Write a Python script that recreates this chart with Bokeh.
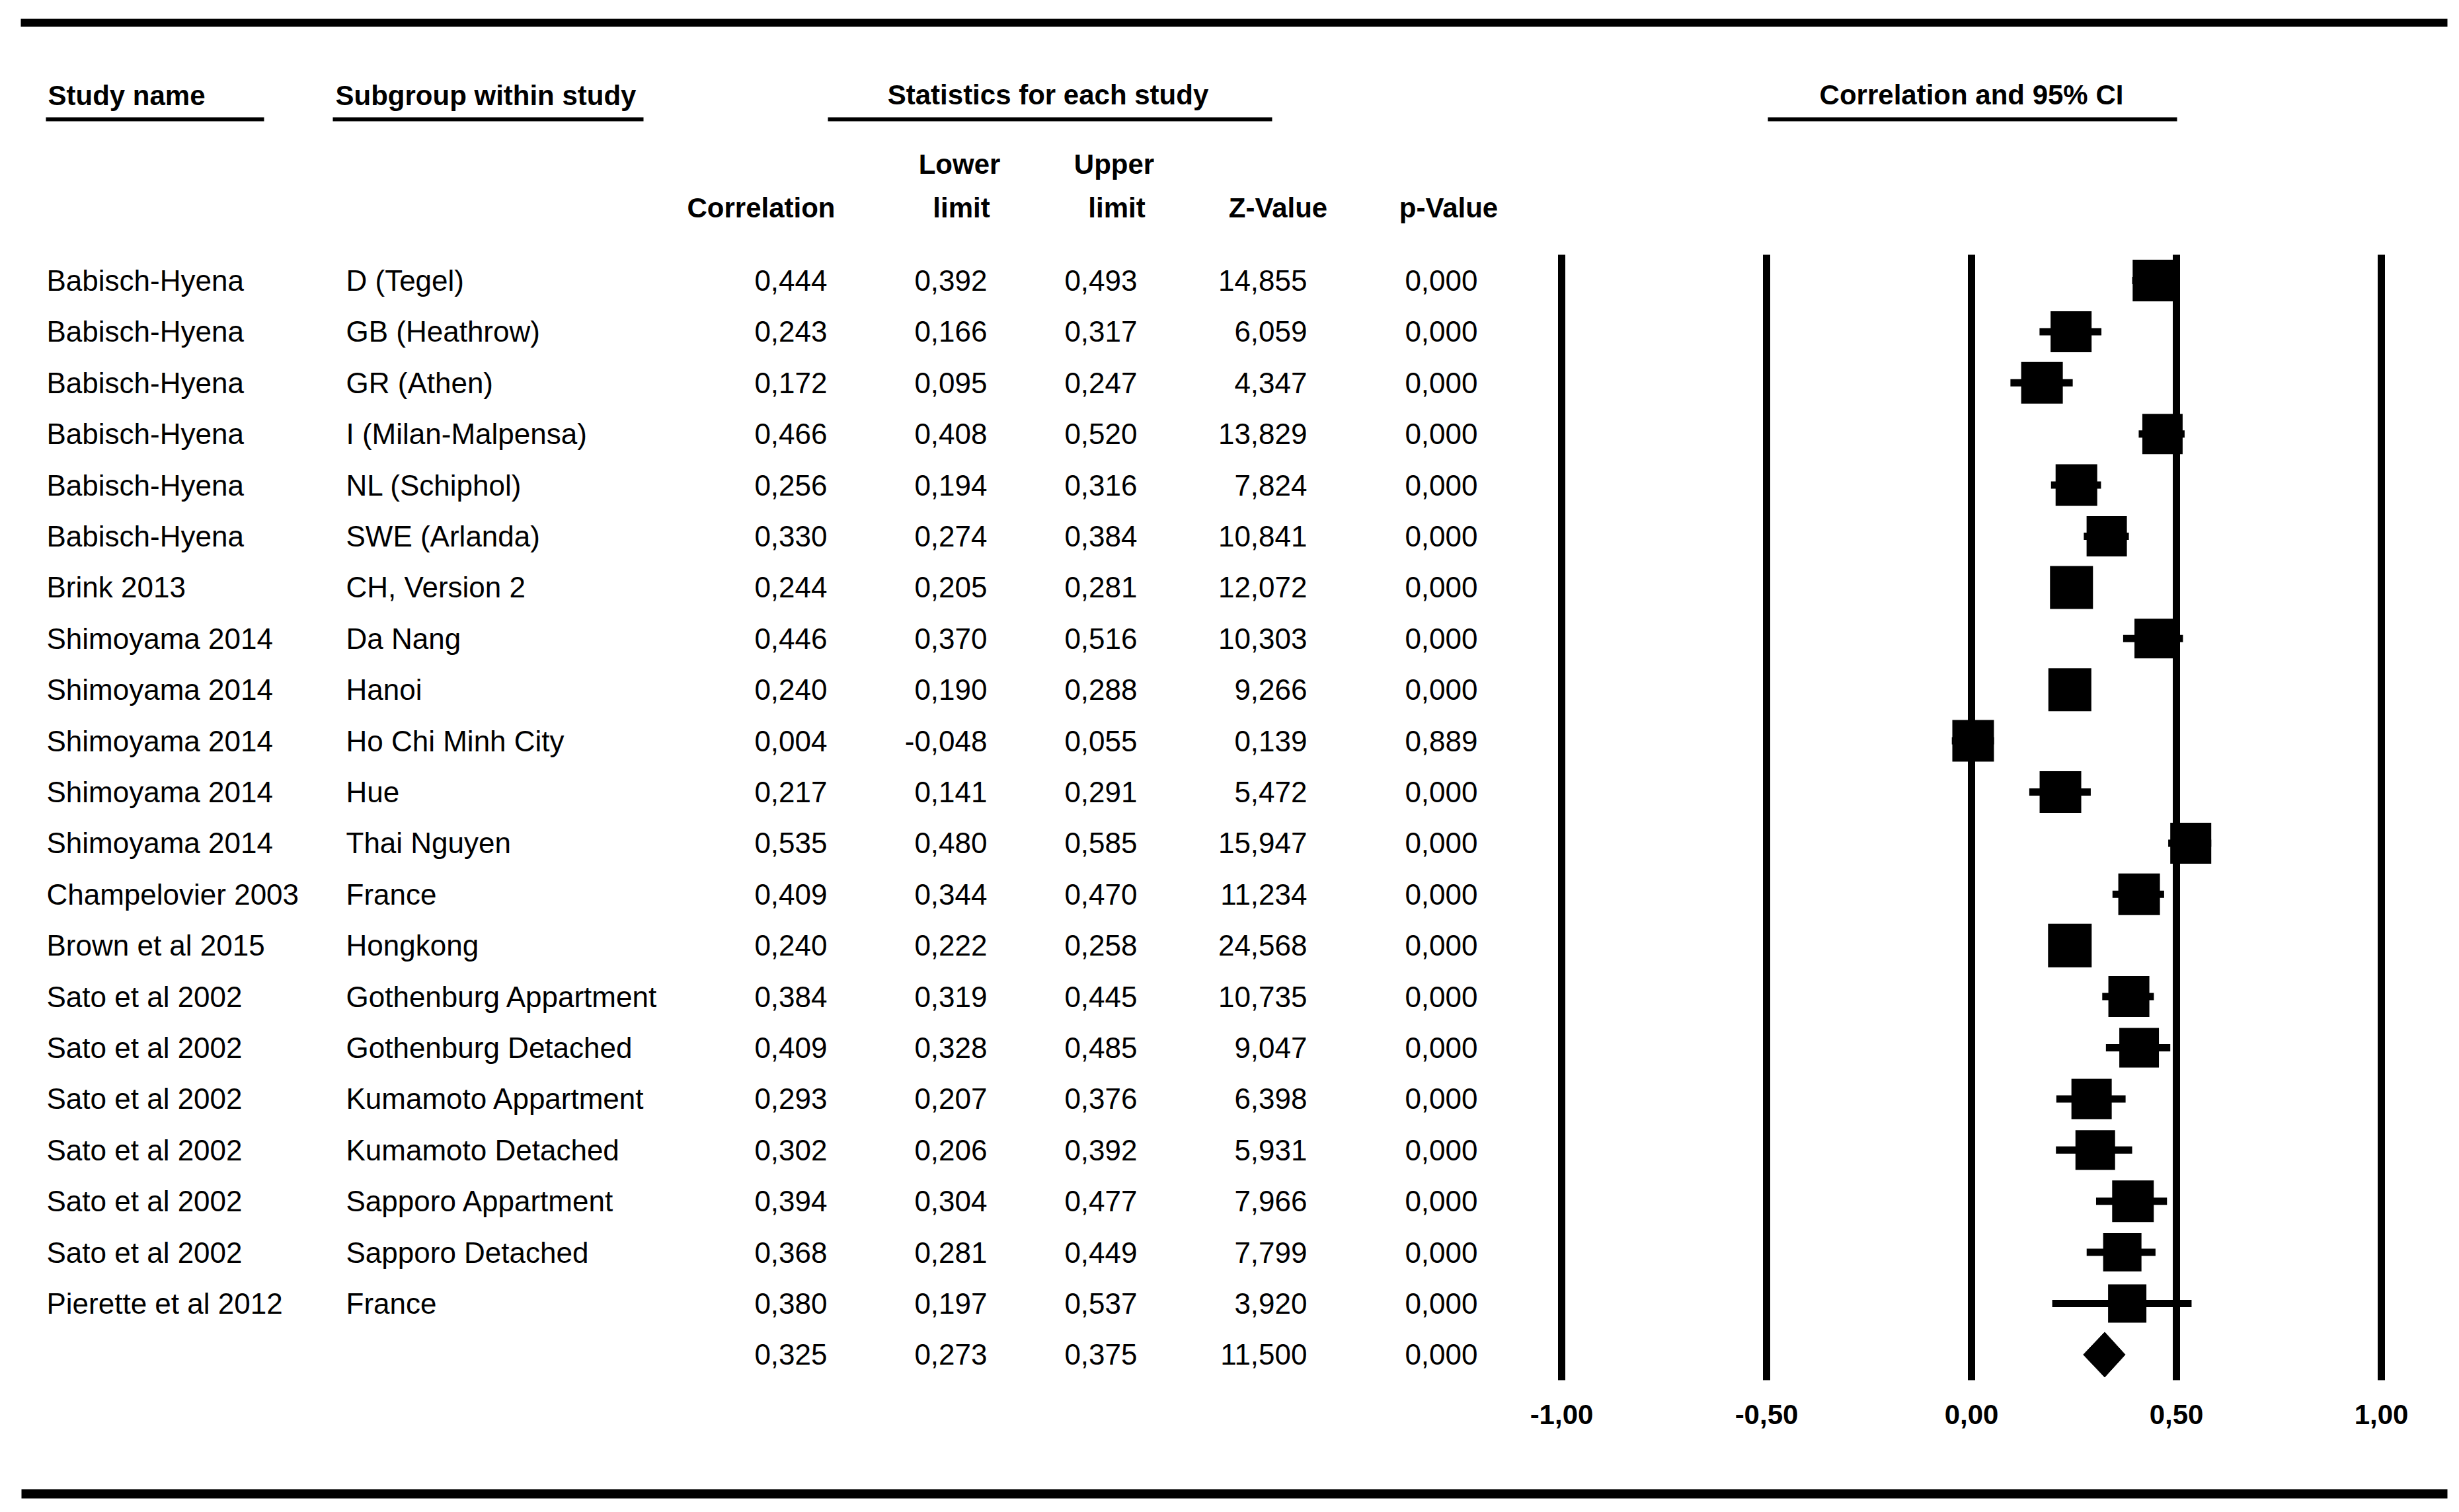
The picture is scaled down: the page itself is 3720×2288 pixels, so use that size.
import numpy as np
from bokeh.plotting import figure
from bokeh.models import Range1d, ColumnDataSource
from bokeh.core.properties import value
from bokeh.embed import file_html
from bokeh.resources import INLINE

# ---------------- data ----------------
study_names = ["Babisch-Hyena"] * 6 + ["Brink 2013"] + ["Shimoyama 2014"] * 5 + \
    ["Champelovier 2003", "Brown et al 2015"] + ["Sato et al 2002"] * 6 + ["Pierette et al 2012"]
subgroups = ["D (Tegel)", "GB (Heathrow)", "GR (Athen)", "I (Milan-Malpensa)", "NL (Schiphol)",
             "SWE (Arlanda)", "CH, Version 2", "Da Nang", "Hanoi", "Ho Chi Minh City", "Hue",
             "Thai Nguyen", "France", "Hongkong", "Gothenburg Appartment", "Gothenburg Detached",
             "Kumamoto Appartment", "Kumamoto Detached", "Sapporo Appartment", "Sapporo Detached",
             "France"]
correlation = [0.444, 0.243, 0.172, 0.466, 0.256, 0.330, 0.244, 0.446, 0.240, 0.004, 0.217,
               0.535, 0.409, 0.240, 0.384, 0.409, 0.293, 0.302, 0.394, 0.368, 0.380]
lower_limit = [0.392, 0.166, 0.095, 0.408, 0.194, 0.274, 0.205, 0.370, 0.190, -0.048, 0.141,
               0.480, 0.344, 0.222, 0.319, 0.328, 0.207, 0.206, 0.304, 0.281, 0.197]
upper_limit = [0.493, 0.317, 0.247, 0.520, 0.316, 0.384, 0.281, 0.516, 0.288, 0.055, 0.291,
               0.585, 0.470, 0.258, 0.445, 0.485, 0.376, 0.392, 0.477, 0.449, 0.537]
z_value = [14.855, 6.059, 4.347, 13.829, 7.824, 10.841, 12.072, 10.303, 9.266, 0.139, 5.472,
           15.947, 11.234, 24.568, 10.735, 9.047, 6.398, 5.931, 7.966, 7.799, 3.920]
p_value = [0.000] * 9 + [0.889] + [0.000] * 11
# relative weights (%), estimated from the square areas
rel_weight = [4.91, 4.76, 4.91, 4.60, 4.91, 4.60, 5.23, 4.45, 5.23, 4.91, 4.91,
              4.76, 4.91, 5.39, 4.76, 4.45, 4.60, 4.45, 4.91, 4.16, 4.16]

summary_corr, summary_lower, summary_upper = 0.325, 0.273, 0.375
summary_z, summary_p = 11.500, 0.000

axis_ticks = [-1.0, -0.5, 0.0, 0.5, 1.0]

# ---------------- layout helpers (page pixels -> data units) ----------------
OFFSET = 0.0          # canvas origin on the page
PX_PER_UNIT = 620.0
ZERO_PX = 2982.0
ROW0_PX = 424.0
ROW_PX = 77.4


def X(px):
    return (px - ZERO_PX) / PX_PER_UNIT


def Y(py):
    return (py - ROW0_PX) / ROW_PX


W, H = 3712, 2280
p = figure(width=W, height=H, output_backend="svg", toolbar_location=None,
           x_range=Range1d(X(OFFSET), X(OFFSET + W)), y_range=Range1d(Y(OFFSET + H), Y(OFFSET)),
           x_axis_type=None, y_axis_type=None, min_border=0,
           outline_line_color=None)
p.xgrid.visible = False
p.ygrid.visible = False
p.background_fill_color = "white"
p.border_fill_color = "white"

FONT = value("Liberation Sans")


def fmt(v):
    return f"{v:.3f}".replace(".", ",")


n = len(study_names)
rows = list(range(n))
all_rows = rows + [n]

# ---------------- rules ----------------
p.segment(x0=[X(31)], y0=[Y(34)], x1=[X(3702)], y1=[Y(34)], line_width=12, line_color="black")
p.segment(x0=[X(32)], y0=[Y(2260)], x1=[X(3702)], y1=[Y(2260)], line_width=14, line_color="black")

# header underlines
ul_x0 = [X(69), X(503), X(1252), X(2674)]
ul_x1 = [X(399), X(973), X(1924), X(3293)]
p.segment(x0=ul_x0, y0=[Y(180)] * 4, x1=ul_x1, y1=[Y(180)] * 4, line_width=6, line_color="black")

# ---------------- headers ----------------
hdr = dict(text_font=FONT, text_font_size="42px", text_font_style="bold", text_color="black",
           text_baseline="middle")
p.text(x=[X(72)], y=[Y(144)], text=["Study name"], text_align="left", **hdr)
p.text(x=[X(507)], y=[Y(144)], text=["Subgroup within study"], text_align="left", **hdr)
p.text(x=[X(1585)], y=[Y(143)], text=["Statistics for each study"], text_align="center", **hdr)
p.text(x=[X(2982)], y=[Y(143)], text=["Correlation and 95% CI"], text_align="center", **hdr)
p.text(x=[X(1263)], y=[Y(314)], text=["Correlation"], text_align="right", **hdr)
p.text(x=[X(1451), X(1685)], y=[Y(248)] * 2, text=["Lower", "Upper"], text_align="center", **hdr)
p.text(x=[X(1454), X(1689)], y=[Y(314)] * 2, text=["limit", "limit"], text_align="center", **hdr)
p.text(x=[X(1933), X(2191)], y=[Y(314)] * 2, text=["Z-Value", "p-Value"], text_align="center", **hdr)

# ---------------- table body ----------------
body = dict(text_font=FONT, text_font_size="44px", text_color="black", text_baseline="middle")
src = ColumnDataSource(dict(
    row=all_rows,
    study=study_names + [""],
    sub=subgroups + [""],
    corr=[fmt(v) for v in correlation + [summary_corr]],
    lo=[fmt(v) for v in lower_limit + [summary_lower]],
    hi=[fmt(v) for v in upper_limit + [summary_upper]],
    z=[fmt(v) for v in z_value + [summary_z]],
    pv=[fmt(v) for v in p_value + [summary_p]],
))
p.text(x=X(70), y="row", text="study", source=src, text_align="left", **body)
p.text(x=X(523), y="row", text="sub", source=src, text_align="left", **body)
for col, right_px in (("corr", 1251), ("lo", 1493), ("hi", 1720), ("z", 1977), ("pv", 2235)):
    p.text(x=X(right_px), y="row", text=col, source=src, text_align="right", **body)

# ---------------- forest plot ----------------
p.segment(x0=axis_ticks, y0=[Y(385)] * len(axis_ticks), x1=axis_ticks, y1=[Y(2088)] * len(axis_ticks),
          line_width=11, line_color="black")

p.segment(x0=lower_limit, y0=rows, x1=upper_limit, y1=rows, line_width=11, line_color="black")
box_sizes = list(np.sqrt(np.array(rel_weight) * 808.0))
p.scatter(x=correlation, y=rows, size=box_sizes, marker="square",
          fill_color="black", line_color=None)

half_h = 34.0 / ROW_PX
p.patch(x=[summary_lower, summary_corr, summary_upper, summary_corr],
        y=[n, n - half_h, n, n + half_h], fill_color="black", line_color="black", line_width=1)

# axis tick labels
tick_labels = [f"{t:.2f}".replace(".", ",") for t in axis_ticks]
p.text(x=axis_ticks, y=[Y(2140)] * len(axis_ticks), text=tick_labels, text_align="center",
       text_baseline="middle", text_font=FONT, text_font_size="42px", text_font_style="bold",
       text_color="black")

open("out.html", "w").write(file_html(p, INLINE))
